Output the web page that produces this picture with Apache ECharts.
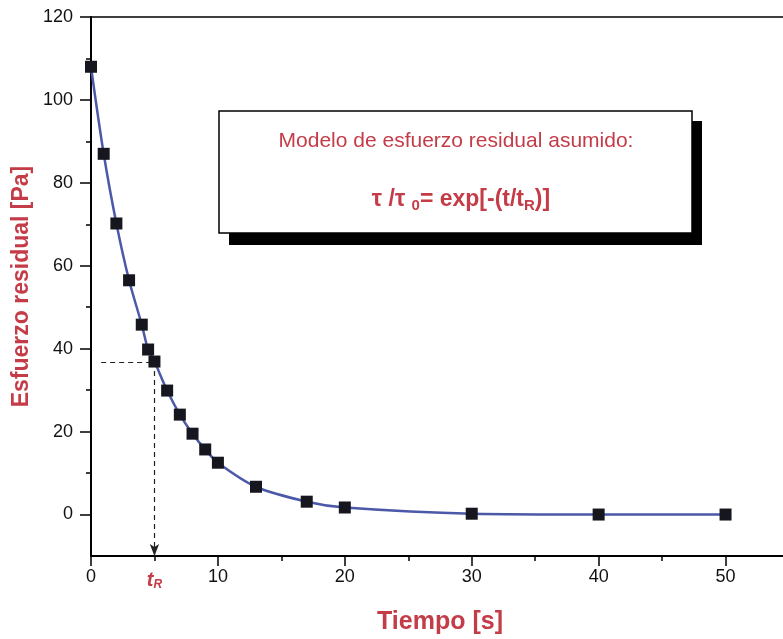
<!DOCTYPE html>
<html>
<head>
<meta charset="utf-8">
<script src="https://cdn.jsdelivr.net/npm/echarts@6/dist/echarts.min.js"></script>
<style>
  html, body { margin: 0; padding: 0; background: #fff; }
  #chart { width: 783px; height: 639px; }
</style>
</head>
<body>
<div id="chart"></div>
<script>
  // measured points: time [s] and residual stress [Pa]
  var tiempo = [0, 1, 2, 3, 4, 4.5, 5, 6, 7, 8, 9, 10, 13, 17, 20, 30, 40, 50];
  var esfuerzo = [108, 87, 70.2, 56.5, 45.8, 39.8, 36.9, 29.9, 24.1, 19.5, 15.7, 12.5, 6.7, 3.1, 1.7, 0.2, 0, 0];
  var tR = 5;
  var tauR = 36.8;

  var red = "#c43c48";
  var font = "Liberation Sans";

  var puntos = tiempo.map(function (t, i) { return [t, esfuerzo[i]]; });

  var option = {
    animation: false,
    backgroundColor: "#fff",
    textStyle: { fontFamily: font },
    grid: [
      { left: 91, top: 17, width: 698, bottom: 83, show: true, borderColor: "#000", borderWidth: 1.5, outerBoundsMode: "none" },
      { left: 91, top: 17, width: 698, height: 497.5, outerBoundsMode: "none" },
    ],
    xAxis: [
      {
        gridIndex: 0,
        type: "value",
        min: 0,
        max: 55,
        interval: 10,
        splitLine: { show: false },
        axisLine: { onZero: false, lineStyle: { color: "#000", width: 2 } },
        axisTick: { length: 10, lineStyle: { color: "#000", width: 1.5 } },
        minorTick: { show: true, splitNumber: 2, length: 5, lineStyle: { color: "#000", width: 1.5 } },
        axisLabel: {
          color: "#111",
          fontSize: 18,
          margin: 12,
          formatter: function (v) { return v % 10 === 0 ? String(v) : ""; },
        },
        name: "Tiempo [s]",
        nameLocation: "middle",
        nameGap: 54,
        nameTextStyle: { color: red, fontSize: 25, fontWeight: "bold" },
      },
      { gridIndex: 1, type: "value", min: 0, max: 55, show: false },
    ],
    yAxis: [
      {
        gridIndex: 0,
        type: "value",
        min: -10,
        max: 120,
        splitLine: { show: false },
        axisLine: { onZero: false, lineStyle: { color: "#000", width: 2 } },
        axisTick: { show: false },
        axisLabel: { show: false },
        name: "Esfuerzo residual [Pa]",
        nameLocation: "middle",
        nameGap: 58,
        nameTextStyle: { color: red, fontSize: 23, fontWeight: "bold" },
      },
      {
        gridIndex: 1,
        type: "value",
        min: 0,
        max: 120,
        interval: 20,
        splitLine: { show: false },
        axisLine: { show: false },
        axisTick: { length: 11, lineStyle: { color: "#000", width: 1.5 } },
        minorTick: { show: true, splitNumber: 2, length: 5, lineStyle: { color: "#000", width: 1.5 } },
        axisLabel: { color: "#111", fontSize: 18, margin: 18 },
      },
    ],
    series: [
      {
        type: "line",
        xAxisIndex: 0,
        yAxisIndex: 0,
        data: puntos,
        smooth: 0.3,
        symbol: "rect",
        symbolSize: 12,
        itemStyle: { color: "#15161e" },
        lineStyle: { color: "#4b59a8", width: 2.5 },
        z: 5,
        markLine: {
          silent: true,
          animation: false,
          label: { show: false },
          lineStyle: { color: "#222", type: [5, 4], width: 1.2 },
          data: [
            [
              { coord: [0.8, tauR], symbol: "none" },
              { coord: [tR, tauR], symbol: "none" },
            ],
            [
              { coord: [tR, tauR], symbol: "none" },
              { coord: [tR, -10], symbol: "arrow", symbolSize: [7, 12] },
            ],
          ],
        },
      },
    ],
  };

  var myChart = echarts.init(document.getElementById("chart"));
  myChart.setOption(option);

  var pR = myChart.convertToPixel({ gridIndex: 0 }, [tR, -10]);

  myChart.setOption({
    graphic: [
      {
        type: "text",
        x: pR[0],
        y: pR[1] + 24,
        style: {
          text: "{t|t}{s|R}",
          textAlign: "center",
          textVerticalAlign: "middle",
          rich: {
            t: { fontSize: 20, fontStyle: "italic", fontWeight: "bold", fill: red, fontFamily: font },
            s: { fontSize: 12, fontStyle: "italic", fontWeight: "bold", fill: red, fontFamily: font, padding: [9, 0, 0, 0] },
          },
        },
      },
      {
        type: "rect",
        shape: { x: 229, y: 121, width: 473, height: 124 },
        style: { fill: "#000" },
        z: 10,
      },
      {
        type: "rect",
        shape: { x: 219, y: 111, width: 473, height: 122 },
        style: { fill: "#fff", stroke: "#000", lineWidth: 1.5 },
        z: 11,
      },
      {
        type: "text",
        x: 456,
        y: 141,
        z: 12,
        style: {
          text: "Modelo de esfuerzo residual asumido:",
          textAlign: "center",
          textVerticalAlign: "middle",
          fontSize: 21,
          fontFamily: font,
          fill: red,
        },
      },
      {
        type: "text",
        x: 461,
        y: 200,
        z: 12,
        style: {
          text: "{a|τ /τ }{s|0}{a|= exp[-(t/t}{s|R}{a|)]}",
          textAlign: "center",
          textVerticalAlign: "middle",
          rich: {
            a: { fontSize: 23, fontWeight: "bold", fill: red, fontFamily: font },
            s: { fontSize: 15, fontWeight: "bold", fill: red, fontFamily: font, padding: [12, 0, 0, 0] },
          },
        },
      },
    ],
  });
</script>
</body>
</html>
